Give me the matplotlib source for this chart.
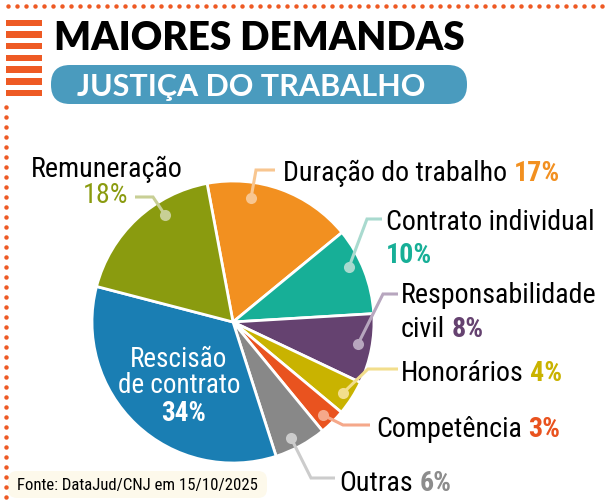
import os
import numpy as np
import matplotlib
matplotlib.use("Agg")
import matplotlib.pyplot as plt
from matplotlib.patches import FancyBboxPatch, Rectangle
from matplotlib import font_manager as fm

# ---------------- data ----------------
categories = ["Duração do trabalho", "Contrato individual", "Responsabilidade civil",
              "Honorários", "Competência", "Outras", "Rescisão de contrato", "Remuneração"]
values = [17, 10, 8, 4, 3, 6, 34, 18]
pct_labels = ["17%", "10%", "8%", "4%", "3%", "6%", "34%", "18%"]
colors = ["#F29020", "#17AF97", "#654270", "#C9B300", "#E9531F", "#888888", "#1A7EB3", "#8A9B0F"]
light_colors = ["#F8C690", "#A9DACF", "#B7A6BE", "#F2DE8C", "#F5A88A", "#CCCCCC", "#FFFFFF", "#C8CF95"]
pct_colors = ["#F29020", "#17AF97", "#654270", "#C9B300", "#E9531F", "#8C8C8C", "#FFFFFF", "#8A9B0F"]

title = "MAIORES DEMANDAS"
subtitle = "JUSTIÇA DO TRABALHO"
source = "Fonte: DataJud/CNJ em 15/10/2025"

W, H = 606, 502
fig = plt.figure(figsize=(W / 100, H / 100), dpi=100)
fig.patch.set_facecolor("white")
BOLDF = ["Lato", "DejaVu Sans"]


# ---------------- pick a condensed font if one is installed ----------------
def _w(f):
    w = f.weight
    if isinstance(w, str):
        w = fm.weight_dict.get(w, 400)
    return w


def find_condensed(bold):
    prefs = ["liberationsansnarrow", "robotocondensed", "opensans_condensed", "opensanscondensed",
             "opensans-condensed", "notosans-condensed", "notosanscondensed", "dejavusanscondensed",
             "notosans-extracondensed", "notosans-semicondensed", "condensed", "narrow"]
    best, best_score = None, 1e9
    for f in fm.fontManager.ttflist:
        fn = os.path.basename(f.fname).lower().replace(" ", "")
        nm = f.name.lower()
        cond = (f.stretch in ("condensed", "semi-condensed", "extra-condensed")
                or "condensed" in fn or "narrow" in fn or "condensed" in nm or "narrow" in nm)
        if not cond or f.style != "normal" or "mono" in fn or "serif" in fn.replace("sans", ""):
            continue
        if "cjk" in fn or "display" in fn:
            continue
        w = _w(f)
        target = 700 if bold else 400
        pi = next((i for i, p in enumerate(prefs) if p in fn), len(prefs))
        score = pi * 1000 + abs(w - target)
        if score < best_score:
            best, best_score = f, score
    if best is None:
        return fm.FontProperties(family="DejaVu Sans", weight="bold" if bold else "normal")
    return fm.FontProperties(fname=best.fname)


FP = find_condensed(False)
FPB = find_condensed(True)

renderer = fig.canvas.get_renderer()


def width_at(s, prop, size):
    p = prop.copy()
    p.set_size(size)
    w, h, d = renderer.get_text_width_height_descent(s, p, ismath=False)
    return w


def fit(s, prop, target_px, max_size):
    return min(max_size, 20 * target_px / width_at(s, prop, 20))


FS = fit("Contrato individual", FP, 208, 22)
FS_IN = fit("de contrato", FP, 122, 20.5)
FS_SRC = fit(source, FP, 240, 12.5)


def prop(size, bold=False):
    p = (FPB if bold else FP).copy()
    p.set_size(size)
    return p


# ---------------- pie ----------------
cx, cy, R = 233, 323, 141
m = 1.05
half = R * m
pax = fig.add_axes([(cx - half) / W, (H - cy - half) / H, 2 * half / W, 2 * half / H])
wedges, _ = pax.pie(values, colors=colors, startangle=100.6, counterclock=False,
                    wedgeprops=dict(edgecolor="white", linewidth=2.0))
pax.set_xlim(-m, m)
pax.set_ylim(-m, m)
pax.set_aspect("equal")
pax.axis("off")

# ---------------- overlay (pixel coords) ----------------
ax = fig.add_axes([0, 0, 1, 1])
ax.set_xlim(0, W)
ax.set_ylim(H, 0)
ax.axis("off")

orange = "#EE5A24"
xs = np.arange(8, W, 9.0)
ax.plot(xs, np.full_like(xs, 7), ls="none", marker="o", ms=3.2, color=orange, mec="none")
ys = np.arange(108, H, 10.0)
ax.plot(np.full_like(ys, 6), ys, ls="none", marker="o", ms=3.2, color=orange, mec="none")

for i in range(7):
    y0 = 20.5 + i * 11.7
    ax.add_patch(Rectangle((6, y0), 36, 6.5, color=orange, lw=0))

ax.text(54, 50, title, fontsize=27.8, fontweight="heavy", family=BOLDF,
        color="black", va="baseline", ha="left")
ax.add_patch(FancyBboxPatch((51, 66), 416, 39, boxstyle="round,pad=0,rounding_size=19",
                            fc="#4A9BBE", ec="none"))
ax.text(77, 96, subtitle, fontsize=22, fontweight="bold", family=BOLDF,
        color="white", va="baseline", ha="left")

ax.add_patch(FancyBboxPatch((8, 472), 259, 27, boxstyle="round,pad=0,rounding_size=9",
                            fc="#FDF9EB", ec="none"))
ax.text(17, 490, source, fontproperties=prop(FS_SRC), color="black",
        va="baseline", ha="left")

leaders = {
    0: [(251, 199), (256, 171), (275, 171)],
    1: [(349, 268), (367, 220), (382, 220)],
    2: [(358, 345), (383, 295), (398, 295)],
    3: [(343, 394), (368, 370), (398, 370)],
    4: [(323, 416), (343, 426), (370, 426)],
    5: [(291, 439), (311, 479), (335, 479)],
    7: [(165, 216), (153, 198), (135, 198)],
}
for i, pts in leaders.items():
    p = np.array(pts)
    ax.plot(p[:, 0], p[:, 1], color=light_colors[i], lw=2.2, solid_capstyle="butt",
            solid_joinstyle="miter")
    ax.plot([p[0, 0]], [p[0, 1]], marker="o", ms=8, color=light_colors[i], mec="none")


def two_part(x, y, t1, t2, c2, bold2=True):
    ax.text(x, y, t1, fontproperties=prop(FS), color="black", va="baseline", ha="left")
    w1 = width_at(t1, FP, FS)
    ax.text(x + w1 + 0.24 * FS * 100 / 72, y, t2, fontproperties=prop(FS, bold2), color=c2,
            va="baseline", ha="left")


two_part(283, 181, "Duração do trabalho", pct_labels[0], pct_colors[0])
ax.text(386, 230, "Contrato individual", fontproperties=prop(FS), color="black", va="baseline")
ax.text(386, 263, pct_labels[1], fontproperties=prop(FS, True), color=pct_colors[1], va="baseline")
ax.text(401, 303, "Responsabilidade", fontproperties=prop(FS), color="black", va="baseline")
two_part(401, 337, "civil", pct_labels[2], pct_colors[2])
two_part(401, 381, "Honorários", pct_labels[3], pct_colors[3])
two_part(376, 437, "Competência", pct_labels[4], pct_colors[4])
two_part(339, 491, "Outras", pct_labels[5], pct_colors[5])
ax.text(31, 177, "Remuneração", fontproperties=prop(FS), color="black", va="baseline")
ax.text(128, 203, pct_labels[7], fontproperties=prop(FS), color=pct_colors[7],
        va="baseline", ha="right")

ax.text(179, 367, "Rescisão", fontproperties=prop(FS_IN), color="white", va="baseline", ha="center")
ax.text(179, 393, "de contrato", fontproperties=prop(FS_IN), color="white", va="baseline", ha="center")
ax.text(184, 421, pct_labels[6], fontproperties=prop(FS_IN, True), color="white",
        va="baseline", ha="center")

fig.savefig("out.png", dpi=100, facecolor="white")
